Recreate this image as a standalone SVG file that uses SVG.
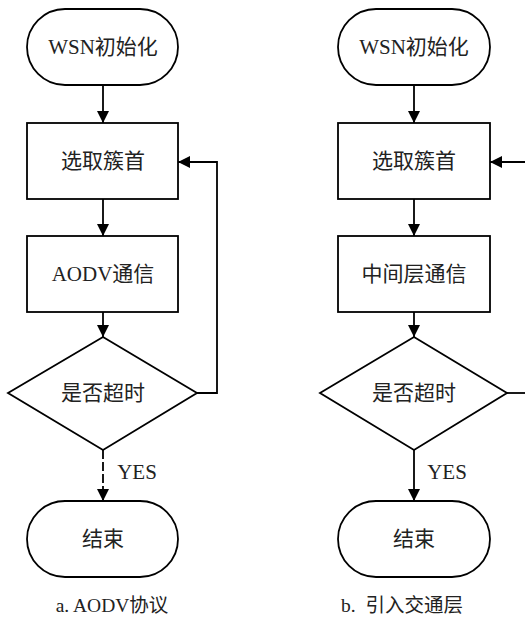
<svg xmlns="http://www.w3.org/2000/svg" width="525" height="618" viewBox="0 0 525 618">
<defs>
<style>
.s{fill:#fff;stroke:#000;stroke-width:1.8}
.t{font-family:"Liberation Serif","Noto Sans CJK SC",serif;font-size:21px;fill:#222;text-anchor:middle;dominant-baseline:central}
.c{font-family:"Liberation Serif","Noto Sans CJK SC",serif;font-size:19.5px;fill:#222;text-anchor:middle}
.y{font-family:"Liberation Serif","Noto Sans CJK SC",serif;font-size:21px;fill:#222;text-anchor:middle}
.l{fill:none;stroke:#000;stroke-width:1.8}
</style>
<marker id="a" viewBox="0 0 12 12" refX="12" refY="6" markerWidth="12" markerHeight="12" markerUnits="userSpaceOnUse" orient="auto"><path d="M0,0 L12,6 L0,12 Z" fill="#000"/></marker>
</defs>
<rect width="525" height="618" fill="#fff"/>
<g id="connectors">
<line class="l" x1="103" y1="85" x2="103" y2="123" marker-end="url(#a)"/>
<line class="l" x1="103" y1="199" x2="103" y2="236" marker-end="url(#a)"/>
<line class="l" x1="103" y1="312" x2="103" y2="337" marker-end="url(#a)"/>
<line class="l" x1="103" y1="450" x2="103" y2="501" stroke-dasharray="9 3" marker-end="url(#a)"/>
<polyline class="l" points="197,393 217,393 217,162 178,162" marker-end="url(#a)"/>
<line class="l" x1="414" y1="85" x2="414" y2="123" marker-end="url(#a)"/>
<line class="l" x1="414" y1="199" x2="414" y2="236" marker-end="url(#a)"/>
<line class="l" x1="414" y1="312" x2="414" y2="337" marker-end="url(#a)"/>
<line class="l" x1="414" y1="450" x2="414" y2="501" marker-end="url(#a)"/>
<line class="l" x1="507" y1="393" x2="527" y2="393"/>
<line class="l" x1="527" y1="162" x2="490" y2="162" marker-end="url(#a)"/>
<text class="y" x="137" y="479">YES</text>
<text class="y" x="447" y="479">YES</text>
</g>
<g id="a-start"><rect class="s" x="27" y="9" width="151" height="76" rx="38"/><text class="t" x="103" y="47">WSN初始化</text></g>
<g id="a-select"><rect class="s" x="27" y="123" width="151" height="76"/><text class="t" x="103" y="161">选取簇首</text></g>
<g id="a-comm"><rect class="s" x="27" y="236" width="151" height="76"/><text class="t" x="103" y="274">AODV通信</text></g>
<g id="a-timeout"><polygon class="s" points="103,337 197,393 103,450 8,393"/><text class="t" x="103" y="393">是否超时</text></g>
<g id="a-end"><rect class="s" x="27" y="501" width="151" height="76" rx="38"/><text class="t" x="103" y="539">结束</text></g>
<text class="c" x="112" y="612">a. AODV协议</text>
<g id="b-start"><rect class="s" x="338" y="9" width="152" height="76" rx="38"/><text class="t" x="414" y="47">WSN初始化</text></g>
<g id="b-select"><rect class="s" x="338" y="123" width="152" height="76"/><text class="t" x="414" y="161">选取簇首</text></g>
<g id="b-comm"><rect class="s" x="338" y="236" width="152" height="76"/><text class="t" x="414" y="274">中间层通信</text></g>
<g id="b-timeout"><polygon class="s" points="414,337 507,393 414,450 320,393"/><text class="t" x="414" y="393">是否超时</text></g>
<g id="b-end"><rect class="s" x="338" y="501" width="152" height="76" rx="38"/><text class="t" x="414" y="539">结束</text></g>
<text class="c" x="402" y="612" xml:space="preserve">b.  引入交通层</text>
</svg>
